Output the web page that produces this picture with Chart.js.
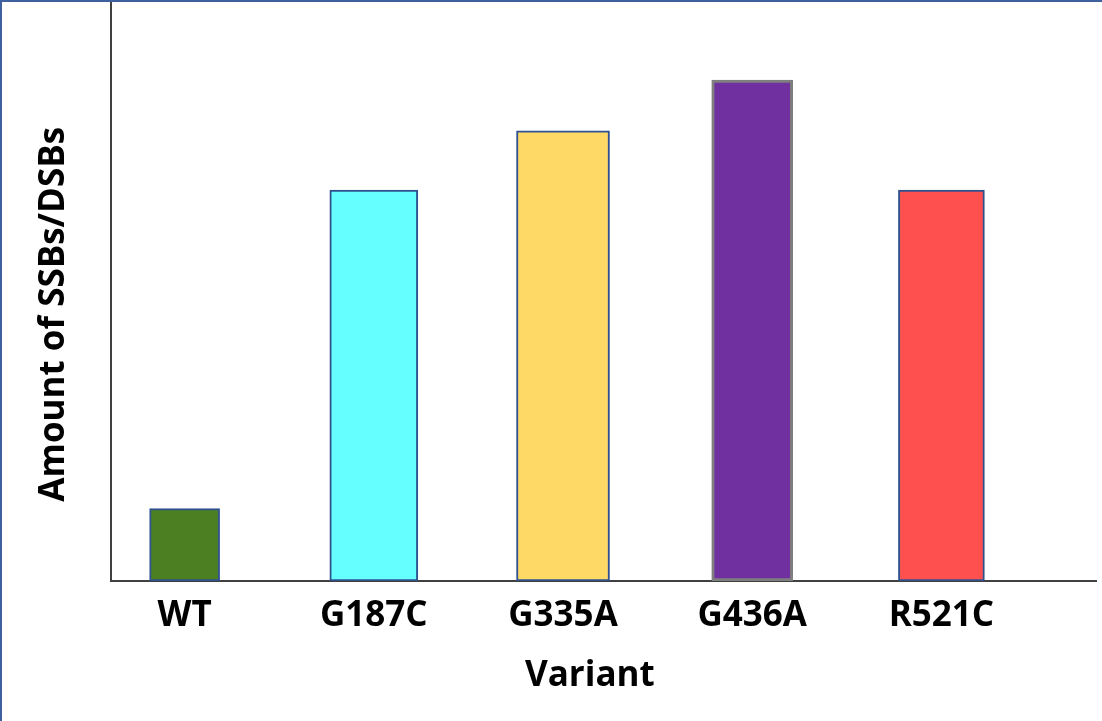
<!DOCTYPE html>
<html>
<head>
<meta charset="utf-8">
<script src="https://cdn.jsdelivr.net/npm/chart.js@4.4.1/dist/chart.umd.min.js"></script>
<style>
  html, body { margin: 0; padding: 0; background: #fff; }
  #frame {
    width: 1100px; height: 719px;
    border-left: 2px solid #41609e;
    border-top: 2px solid #41609e;
  }
  canvas { display: block; }
</style>
</head>
<body>
<div id="frame"><canvas id="myChart" width="1100" height="719"></canvas></div>
<script>
// variants on the x axis
const variants = ['WT', 'G187C', 'G335A', 'G436A', 'R521C'];

// amount of SSBs/DSBs (arbitrary units)
const amounts = [1.0, 5.40, 6.22, 6.92, 5.40];

// bar look
const fillColors   = ['#4b7f22', '#66ffff', '#ffd966', '#7030a0', '#ff5050'];
const borderColors = ['#2f528f', '#2f528f', '#2f528f', '#7f7f7f', '#2f528f'];
const borderWidths = [2, 2, 2, 3, 2];
const barWidths    = [70, 88, 93, 81, 86];

Chart.defaults.font.family = "'Open Sans', sans-serif";
Chart.defaults.color = '#000';

// one dataset per bar, so each bar keeps its own width
let datasets = variants.map((name, i) => {
  return {
    label: name,
    data: [{ x: i, y: amounts[i] }],
    backgroundColor: fillColors[i],
    borderColor: borderColors[i],
    borderWidth: borderWidths[i],
    borderSkipped: false,
    barThickness: barWidths[i],
    grouped: false
  };
});

const ctx = document.getElementById('myChart');

let barChart = new Chart(ctx, {
  type: 'bar',
  data: { datasets: datasets },
  options: {
    responsive: false,
    animation: false,
    layout: { padding: { top: 0, right: 6, bottom: 0, left: 0 } },
    plugins: { legend: { display: false }, tooltip: { enabled: false } },
    scales: {
      x: {
        type: 'linear',
        offset: false,
        min: -0.389,
        max: 4.817,
        grid: { display: false, drawTicks: false, offset: false },
        border: { display: true, color: '#404040', width: 2 },
        afterBuildTicks: scale => {
          scale.ticks = variants.map((v, i) => ({ value: i }));
        },
        ticks: {
          padding: 14,
          font: { size: 35, weight: 'bold' },
          callback: value => variants[value]
        },
        title: {
          display: true,
          // trailing spaces nudge the word a bit left, as in the original
          text: 'Variant\u00a0\u00a0\u00a0',
          font: { size: 35, weight: 'bold' },
          padding: { top: 0, bottom: 24 }
        },
        afterFit: scale => { scale.height = 140; }
      },
      y: {
        min: 0,
        max: 8,
        grid: { display: false, drawTicks: false },
        border: { display: true, color: '#404040', width: 2 },
        ticks: { display: false },
        title: {
          display: true,
          text: 'Amount of SSBs/DSBs\u00a0\u00a0\u00a0\u00a0\u00a0',
          font: { size: 35, weight: 'bold' },
          padding: { top: 31, bottom: 0 }
        },
        afterFit: scale => { scale.width = 109; }
      }
    }
  }
});
</script>
</body>
</html>
